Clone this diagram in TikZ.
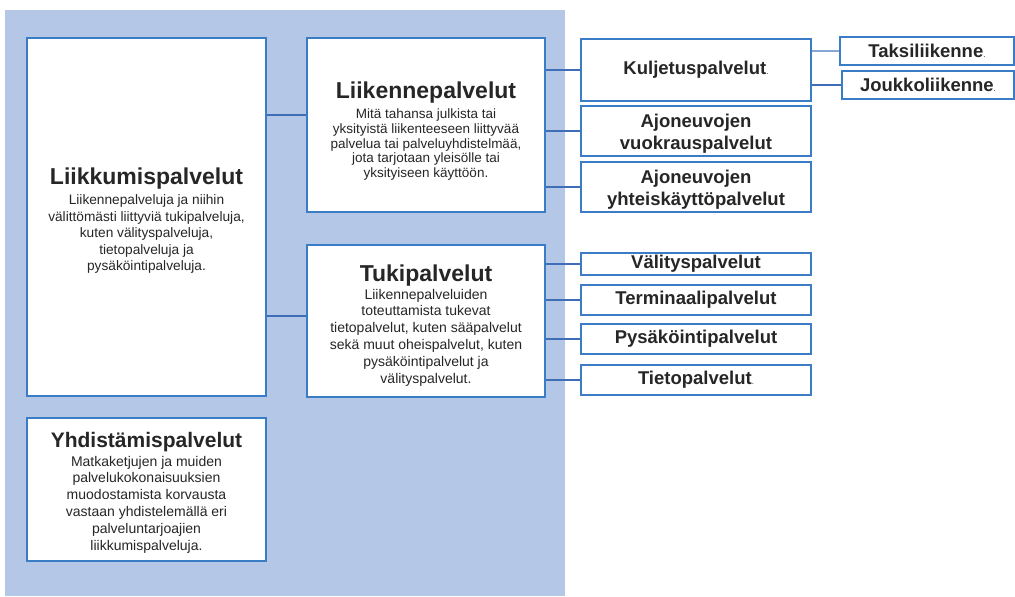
\documentclass[tikz,border=0pt]{standalone}
\usepackage{fontspec}
\setmainfont{Liberation Sans}
\definecolor{bg}{HTML}{B4C7E7}
\definecolor{bd}{HTML}{3A7DC6}
\definecolor{cn}{HTML}{3F6DB8}
\definecolor{cnl}{HTML}{86A6D6}
\definecolor{txc}{HTML}{262626}
\tikzset{
  box/.style={draw=bd, line width=1.4pt, fill=white, inner sep=0pt, text=txc, align=center},
  txt/.style={inner sep=0pt, text=txc, align=center, anchor=base},
  smallbox/.style={box, font=\fontsize{18.5}{21.5}\selectfont\bfseries},
  conn/.style={draw=cn, line width=1.8pt},
  connl/.style={draw=cnl, line width=1.8pt},
}
\newcommand\ttl[2][23]{{\fontsize{#1}{#1}\selectfont\bfseries #2}}
\newcommand\tdot{{\fontsize{8}{8}\selectfont\mdseries .}}
\newcommand\topstrut{\rule{0pt}{19.2pt}}
\begin{document}
\begin{tikzpicture}[x=1pt,y=-1pt]
\useasboundingbox (0,0) rectangle (1015,597);
\fill[bg] (5,10) rectangle (565,596);

% main boxes (text nodes anchored at the baseline of their last line)
\node[box, minimum width=239, minimum height=358] (lk) at (146.5,217) {};
\node[txt, font=\fontsize{13.7}{16.5}\selectfont] (lkt) at (146.5,270.8)
  {\ttl{Liikkumispalvelut}\\[3.5pt]
   Liikennepalveluja ja niihin\\
   välittömästi liittyviä tukipalveluja,\\
   kuten välityspalveluja,\\
   tietopalveluja ja\\
   pysäköintipalveluja.};
\node[box, minimum width=239, minimum height=143] (yh) at (146.5,489.5) {};
\node[txt, font=\fontsize{14}{16.8}\selectfont] (yht) at (146.5,550)
  {\ttl[21]{Yhdistämispalvelut}\\[1.5pt]
   Matkaketjujen ja muiden\\
   palvelukokonaisuuksien\\
   muodostamista korvausta\\
   vastaan yhdistelemällä eri\\
   palveluntarjoajien\\
   liikkumispalveluja.};
\node[box, minimum width=238, minimum height=174] (lp) at (426,125) {};
\node[txt, font=\fontsize{13.5}{14.7}\selectfont] (lpt) at (426,177.5)
  {\ttl{Liikennepalvelut}\\[5.8pt]
   Mitä tahansa julkista tai\\
   yksityistä liikenteeseen liittyvää\\
   palvelua tai palveluyhdistelmää,\\
   jota tarjotaan yleisölle tai\\
   yksityiseen käyttöön.};
\node[box, minimum width=238, minimum height=152] (tp) at (426,321) {};
\node[txt, font=\fontsize{14}{16.9}\selectfont] (tpt) at (426,383.5)
  {\ttl{Tukipalvelut}\\[0.6pt]
   Liikennepalveluiden\\
   toteuttamista tukevat\\
   tietopalvelut, kuten sääpalvelut\\
   sekä muut oheispalvelut, kuten\\
   pysäköintipalvelut ja\\
   välityspalvelut.};

% right boxes (transport)
\node[smallbox, minimum width=230, minimum height=62] (kp) at (696,70) {Kuljetuspalvelut\tdot};
\node[smallbox, minimum width=230, minimum height=50] (av) at (696,131) {\topstrut Ajoneuvojen\\vuokrauspalvelut};
\node[smallbox, minimum width=230, minimum height=50] (ay) at (696,187) {\topstrut Ajoneuvojen\\yhteiskäyttöpalvelut};
\node[smallbox, minimum width=174, minimum height=28] (tx) at (927,51) {Taksiliikenne\tdot};
\node[smallbox, minimum width=172, minimum height=28] (jk) at (928,85) {Joukkoliikenne\tdot};

% right boxes (support)
\node[smallbox, minimum width=230, minimum height=22] (vp) at (696,264) {Välityspalvelut};
\node[smallbox, minimum width=230, minimum height=30] (tm) at (696,300) {Terminaalipalvelut};
\node[smallbox, minimum width=230, minimum height=30] (pk) at (696,339) {Pysäköintipalvelut};
\node[smallbox, minimum width=230, minimum height=30] (tt) at (696,380) {Tietopalvelut\tdot};

% connectors
\coordinate (c1) at (0,115);
\coordinate (c2) at (0,316);
\draw[conn] (lk.east |- c1) -- (lp.west |- c1);
\draw[conn] (lk.east |- c2) -- (tp.west |- c2);
\draw[conn] (lp.east |- kp.west) -- (kp.west);
\draw[conn] (lp.east |- av.west) -- (av.west);
\draw[conn] (lp.east |- ay.west) -- (ay.west);
\draw[connl] (kp.east |- tx.west) -- (tx.west);
\draw[conn] (kp.east |- jk.west) -- (jk.west);
\draw[conn] (tp.east |- vp.west) -- (vp.west);
\draw[conn] (tp.east |- tm.west) -- (tm.west);
\draw[conn] (tp.east |- pk.west) -- (pk.west);
\draw[conn] (tp.east |- tt.west) -- (tt.west);
\end{tikzpicture}
\end{document}
